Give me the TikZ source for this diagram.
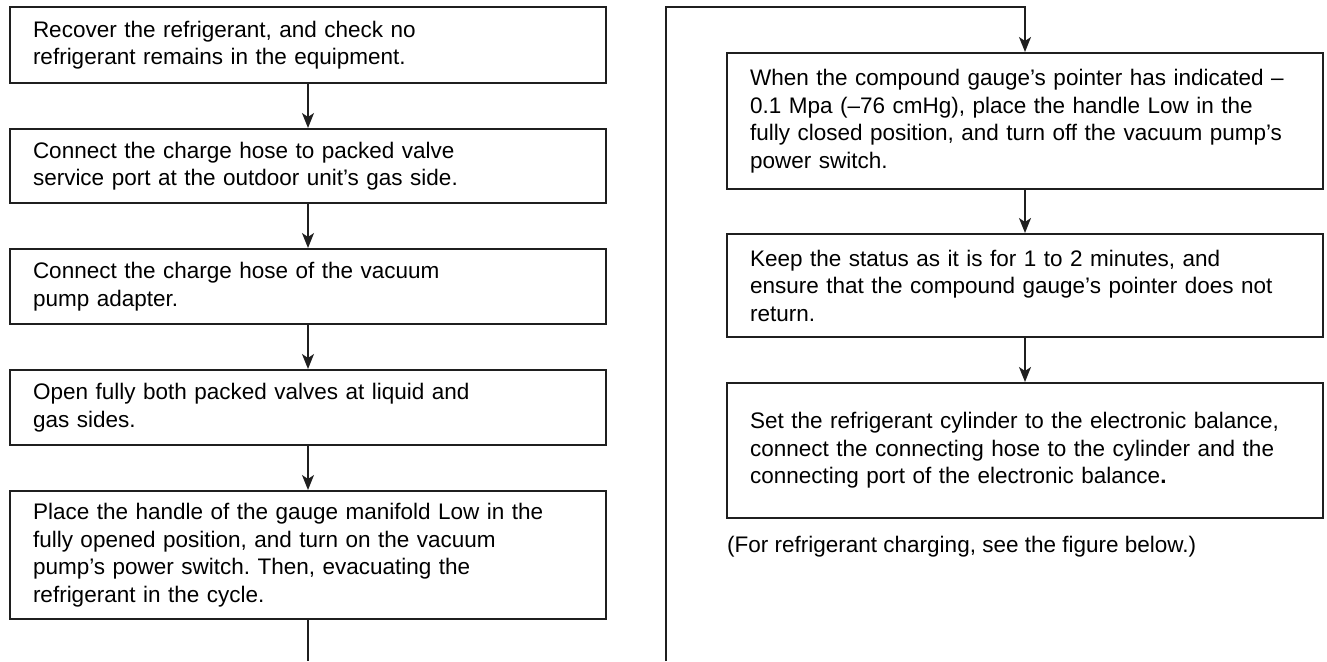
\documentclass[tikz,border=0pt]{standalone}
\usepackage{fontspec}
\setmainfont{Liberation Sans}
\usetikzlibrary{arrows.meta}
\frenchspacing
\begin{document}
\begin{tikzpicture}[x=1pt,y=-1pt,
  stepbox/.style={draw=black!88, line width=2pt, rectangle, minimum width=596pt,
    text width=550pt, inner xsep=23pt, inner ysep=0pt, align=left,
    font=\fontsize{22.5}{27.5}\selectfont},
  flow/.style={draw=black!88, line width=1.5pt, -{Stealth[length=15pt,width=12pt,inset=4pt]}},
  plain/.style={draw=black!88, line width=1.5pt}]
\useasboundingbox (0,0) rectangle (1327,661);
% left column
\node[stepbox, minimum height=76pt] (b1) at (308,45) {Recover the refrigerant, and check no\\refrigerant remains in the equipment.};
\node[stepbox, minimum height=74pt] (b2) at (308,166) {Connect the charge hose to packed valve\\service port at the outdoor unit’s gas side.};
\node[stepbox, minimum height=75pt] (b3) at (308,286.5) {Connect the charge hose of the vacuum\\pump adapter.};
\node[stepbox, minimum height=75pt] (b4) at (308,407.5) {Open fully both packed valves at liquid and\\gas sides.};
\node[stepbox, minimum height=128pt] (b5) at (308,555) {Place the handle of the gauge manifold Low in the\\fully opened position, and turn on the vacuum\\pump’s power switch. Then, evacuating the\\refrigerant in the cycle.};
% right column
\node[stepbox, minimum height=136pt] (r1) at (1025,121) {When the compound gauge’s pointer has indicated –\\0.1 Mpa (–76 cmHg), place the handle Low in the\\fully closed position, and turn off the vacuum pump’s\\power switch.};
\node[stepbox, minimum height=103pt] (r2) at (1025,285.5) {Keep the status as it is for 1 to 2 minutes, and\\ensure that the compound gauge’s pointer does not\\return.};
\node[stepbox, minimum height=135pt] (r3) at (1025,450.5) {Set the refrigerant cylinder to the electronic balance,\\connect the connecting hose to the cylinder and the\\connecting port of the electronic balance\textbf{.}};
\node[anchor=west, inner sep=0pt, font=\fontsize{22.5}{27.5}\selectfont] (note) at (727,547) {(For refrigerant charging, see the figure below.)};
% connectors
\coordinate (lend) at (308,661);
\coordinate (rstart) at (666,661);
\coordinate (rtop) at (666,7);
\coordinate (rtopx) at (1025,7);
\draw[flow] (b1) -- (b2);
\draw[flow] (b2) -- (b3);
\draw[flow] (b3) -- (b4);
\draw[flow] (b4) -- (b5);
\draw[plain] (b5.south) -- (lend);
\draw[flow] (rstart) -- (rtop) -- (rtopx) -- (r1.north);
\draw[flow] (r1) -- (r2);
\draw[flow] (r2) -- (r3);
\end{tikzpicture}
\end{document}
